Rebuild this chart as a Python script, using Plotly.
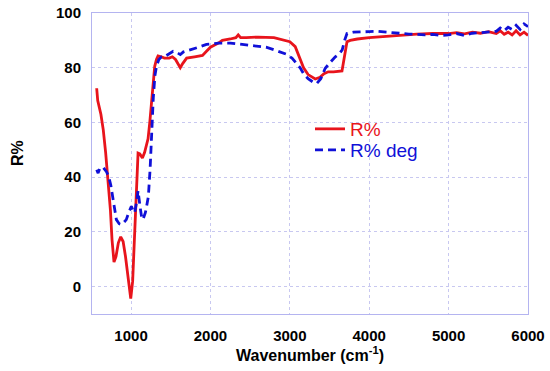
import plotly.graph_objects as go

red_x = [567, 580, 620, 650, 680, 710, 740, 760, 785, 810, 840, 870, 900, 930, 960, 980, 996, 1020, 1050, 1070, 1088, 1110, 1143, 1170, 1190, 1214, 1236, 1256, 1280, 1298, 1320, 1340, 1380, 1420, 1480, 1520, 1560, 1600, 1620, 1650, 1700, 1800, 1900, 1950, 2000, 2100, 2150, 2250, 2320, 2350, 2380, 2450, 2600, 2800, 2900, 3000, 3068, 3120, 3173, 3230, 3320, 3380, 3430, 3484, 3550, 3657, 3690, 3720, 3760, 3850, 4000, 4200, 4400, 4600, 4800, 5000, 5100, 5200, 5300, 5400, 5500, 5600, 5650, 5700, 5750, 5800, 5850, 5900, 5950, 6000]
red_y = [72.5, 68, 63, 57.3, 49, 39, 28, 17.2, 9, 11, 16, 18.2, 16.5, 11, 3, -1.5, -4.4, 2, 22, 38, 48.8, 48.5, 47, 49, 51, 54, 60, 66, 76, 80.5, 83, 84.3, 84, 83.5, 83.5, 84, 83, 81, 80, 81.5, 83.5, 84, 84.5, 86, 87.5, 89, 90, 90.5, 91, 92, 91, 91, 91.2, 91, 90.3, 89.5, 87.7, 84, 80, 77.5, 75.9, 76.5, 77.8, 78.5, 78.5, 78.8, 84, 89.5, 90, 90.5, 91, 91.5, 92, 92.3, 92.5, 92.5, 92.8, 92.4, 93, 92.6, 93.2, 92.5, 93.5, 92.2, 93, 92, 93.5, 92, 93, 91.8]

blue_x = [567, 585, 610, 650, 690, 718, 745, 773, 815, 850, 878, 910, 940, 970, 1004, 1030, 1046, 1070, 1088, 1110, 1130, 1150, 1180, 1200, 1218, 1240, 1260, 1280, 1300, 1320, 1350, 1383, 1420, 1480, 1530, 1580, 1620, 1660, 1750, 1850, 1950, 2100, 2250, 2400, 2550, 2700, 2816, 2950, 3027, 3080, 3130, 3180, 3230, 3300, 3340, 3390, 3446, 3510, 3573, 3620, 3660, 3690, 3720, 3800, 3900, 4000, 4100, 4200, 4300, 4400, 4500, 4600, 4700, 4800, 4900, 5000, 5100, 5200, 5300, 5400, 5500, 5600, 5650, 5700, 5750, 5800, 5850, 5900, 5950, 6000]
blue_y = [42.7, 41.5, 43.5, 43.5, 42, 40.3, 37, 31.8, 24.5, 23, 22.7, 23.5, 24.5, 27, 29.4, 27.5, 27, 31, 35, 30, 26, 24.5, 27, 30, 33, 43, 58, 69, 77, 80.5, 83, 84, 84, 85, 86, 85.5, 84.8, 85.8, 86.5, 87.5, 88.5, 89, 89, 88.5, 88, 87.5, 86.4, 85, 83.5, 81.5, 80, 77.5, 76, 74.6, 74.3, 76, 79.8, 82, 84, 85, 86.5, 90, 92.5, 93, 93, 93.2, 93.3, 93, 92.7, 92.5, 92.3, 92.2, 92, 92.2, 91.8, 92, 92.5, 91.8, 92.6, 92.8, 93, 93.3, 94.5, 93.5, 94.8, 94, 95.5, 94, 96, 95]

x_ticks = [1000, 2000, 3000, 4000, 5000, 6000]
y_ticks = [0, 20, 40, 60, 80, 100]

FONT = "Liberation Sans, Arial, sans-serif"

fig = go.Figure()
fig.add_trace(go.Scatter(x=red_x, y=red_y, mode="lines", legend="legend",
                         name="<span style='color:#e8141c'>R%</span>",
                         line=dict(color="#e8141c", width=2.8)))
fig.add_trace(go.Scatter(x=blue_x, y=blue_y, mode="lines", legend="legend2",
                         name="<span style='color:#1010d8'>R% deg</span>",
                         line=dict(color="#1010d8", width=2.8, dash="8px,5px")))

axis_common = dict(showline=True, linecolor="#b4b4f0", linewidth=1, mirror=True,
                   showgrid=True, gridcolor="#c8c8f0", griddash="dot", gridwidth=1,
                   zeroline=False, automargin=False,
                   ticks="outside", tickcolor="rgba(0,0,0,0)",
                   tickfont=dict(family=FONT, size=15, color="black", weight="bold"))

leg_common = dict(x=0.5, xanchor="left", yanchor="middle",
                  bgcolor="rgba(0,0,0,0)", font=dict(family=FONT, size=19),
                  itemwidth=30)

fig.update_layout(
    width=550, height=371,
    margin=dict(l=92, r=22, t=13, b=57),
    plot_bgcolor="white", paper_bgcolor="white",
    font=dict(family=FONT),
    xaxis=dict(range=[508, 6000], tickvals=x_ticks, ticklen=8,
               title=dict(text="Wavenumber (cm<sup>-1</sup>)", standoff=4,
                          font=dict(family=FONT, size=16, color="black", weight="bold")),
               **axis_common),
    yaxis=dict(range=[-10, 100], tickvals=y_ticks, ticklen=7, **axis_common),
    legend=dict(y=0.6146, **leg_common),
    legend2=dict(y=0.545, **leg_common),
    showlegend=True,
    annotations=[dict(text="R%", textangle=-90, xref="paper", yref="paper",
                      x=-(92 - 18) / 436, y=1 - (153 - 13) / 301,
                      xanchor="center", yanchor="middle", showarrow=False,
                      font=dict(family=FONT, size=16, color="black", weight="bold"))],
)

fig.write_html("out.html", config={"displayModeBar": False},
               post_script="document.body.style.margin='0';document.body.style.overflow='hidden';")
